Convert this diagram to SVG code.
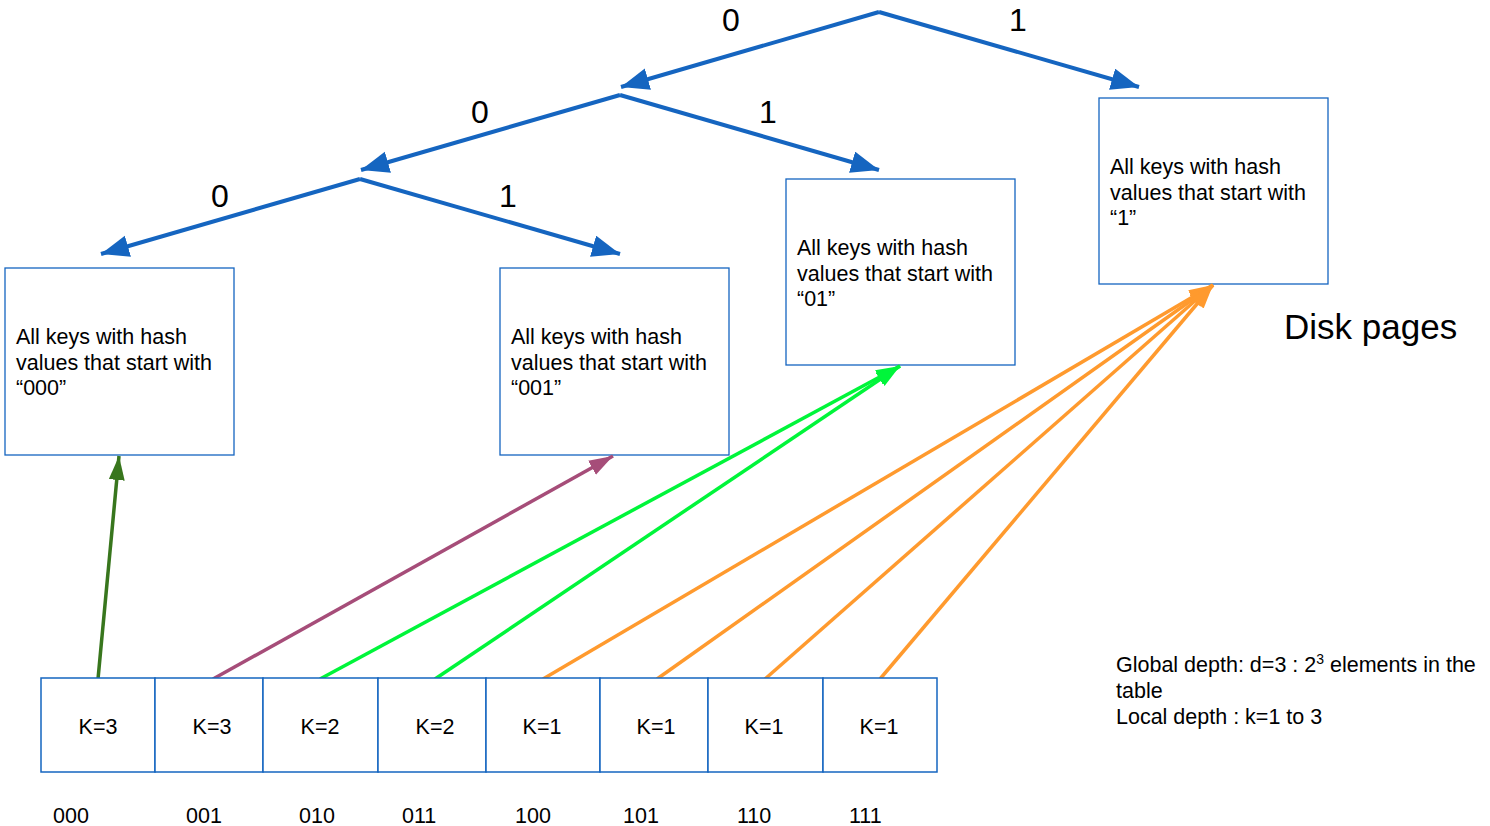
<svg xmlns="http://www.w3.org/2000/svg" width="1490" height="826" viewBox="0 0 1490 826">
<style>
text{font-family:"Liberation Sans",Arial,sans-serif;fill:#000}
.box{fill:#fff;stroke:#1565c0;stroke-width:1.3}
.cell{fill:#fff;stroke:#1565c0;stroke-width:1.5}
.bt{font-size:21.5px}
.k{font-size:21.5px;text-anchor:middle}
.lbl{font-size:21.5px}
.bit{font-size:32px;text-anchor:middle}
.tree{stroke:#1565c0;stroke-width:4;fill:none;marker-end:url(#hb)}
.c{stroke-width:3.5;fill:none}
</style>
<defs>
<marker id="hb" markerUnits="userSpaceOnUse" markerWidth="30" markerHeight="24" refX="28" refY="11" orient="auto"><path d="M0,0 L28,11 L0,22 z" fill="#1565c0"/></marker>
<marker id="hdg" markerUnits="userSpaceOnUse" markerWidth="26" markerHeight="18" refX="24" refY="8" orient="auto"><path d="M0,0 L24,8 L0,16 z" fill="#38761d"/></marker>
<marker id="hp" markerUnits="userSpaceOnUse" markerWidth="26" markerHeight="18" refX="24" refY="8" orient="auto"><path d="M0,0 L24,8 L0,16 z" fill="#a64d79"/></marker>
<marker id="hg" markerUnits="userSpaceOnUse" markerWidth="26" markerHeight="18" refX="24" refY="8" orient="auto"><path d="M0,0 L24,8 L0,16 z" fill="#00f53a"/></marker>
<marker id="ho" markerUnits="userSpaceOnUse" markerWidth="26" markerHeight="18" refX="24" refY="8" orient="auto"><path d="M0,0 L24,8 L0,16 z" fill="#ff9a2e"/></marker>
</defs>

<g id="tree">
<path class="tree" d="M879,12 L621,87"/>
<path class="tree" d="M879,12 L1139,87"/>
<path class="tree" d="M620,95 L361,170"/>
<path class="tree" d="M620,95 L879,170"/>
<path class="tree" d="M360,179 L101,254"/>
<path class="tree" d="M360,179 L620,254"/>
<text class="bit" x="731" y="31">0</text>
<text class="bit" x="1018" y="31">1</text>
<text class="bit" x="480" y="123">0</text>
<text class="bit" x="768" y="123">1</text>
<text class="bit" x="220" y="207">0</text>
<text class="bit" x="508" y="207">1</text>
</g>

<g id="page000">
<rect class="box" x="5" y="268" width="229" height="187"/>
<text class="bt" x="16" y="344">All keys with hash</text>
<text class="bt" x="16" y="370">values that start with</text>
<text class="bt" x="16" y="395">“000”</text>
</g>
<g id="page001">
<rect class="box" x="500" y="268" width="229" height="187"/>
<text class="bt" x="511" y="344">All keys with hash</text>
<text class="bt" x="511" y="370">values that start with</text>
<text class="bt" x="511" y="395">“001”</text>
</g>
<g id="page01">
<rect class="box" x="786" y="179" width="229" height="186"/>
<text class="bt" x="797" y="255">All keys with hash</text>
<text class="bt" x="797" y="281">values that start with</text>
<text class="bt" x="797" y="306">“01”</text>
</g>
<g id="page1">
<rect class="box" x="1099" y="98" width="229" height="186"/>
<text class="bt" x="1110" y="174">All keys with hash</text>
<text class="bt" x="1110" y="200">values that start with</text>
<text class="bt" x="1110" y="225">“1”</text>
</g>

<text x="1284" y="339" style="font-size:35px">Disk pages</text>

<g id="connectors">
<path class="c" stroke="#38761d" marker-end="url(#hdg)" d="M98,679 L119,456"/>
<path class="c" stroke="#a64d79" marker-end="url(#hp)" d="M213,679 L613,456"/>
<path class="c" stroke="#00f53a" marker-end="url(#hg)" d="M320,679 L900,366"/>
<path class="c" stroke="#00f53a" marker-end="url(#hg)" d="M435,679 L900,366"/>
<path class="c" stroke="#ff9a2e" marker-end="url(#ho)" d="M543,679 L1213,285"/>
<path class="c" stroke="#ff9a2e" marker-end="url(#ho)" d="M657,679 L1213,285"/>
<path class="c" stroke="#ff9a2e" marker-end="url(#ho)" d="M765,679 L1213,285"/>
<path class="c" stroke="#ff9a2e" marker-end="url(#ho)" d="M880,679 L1213,285"/>
</g>

<g id="table">
<rect class="cell" x="41" y="678" width="114" height="94"/>
<rect class="cell" x="155" y="678" width="108" height="94"/>
<rect class="cell" x="263" y="678" width="115" height="94"/>
<rect class="cell" x="378" y="678" width="108" height="94"/>
<rect class="cell" x="486" y="678" width="114" height="94"/>
<rect class="cell" x="600" y="678" width="108" height="94"/>
<rect class="cell" x="708" y="678" width="115" height="94"/>
<rect class="cell" x="823" y="678" width="114" height="94"/>
<text class="k" x="98" y="734">K=3</text>
<text class="k" x="212" y="734">K=3</text>
<text class="k" x="320" y="734">K=2</text>
<text class="k" x="435" y="734">K=2</text>
<text class="k" x="542" y="734">K=1</text>
<text class="k" x="656" y="734">K=1</text>
<text class="k" x="764" y="734">K=1</text>
<text class="k" x="879" y="734">K=1</text>
</g>

<g id="indexes">
<text class="lbl" x="53" y="823">000</text>
<text class="lbl" x="186" y="823">001</text>
<text class="lbl" x="299" y="823">010</text>
<text class="lbl" x="402" y="823">011</text>
<text class="lbl" x="515" y="823">100</text>
<text class="lbl" x="623" y="823">101</text>
<text class="lbl" x="737" y="823">110</text>
<text class="lbl" x="849" y="823">111</text>
</g>

<g id="note">
<text class="lbl" x="1116" y="672">Global depth: d=3 : 2<tspan dy="-8" style="font-size:14px">3</tspan><tspan dy="8"> elements in the</tspan></text>
<text class="lbl" x="1116" y="698">table</text>
<text class="lbl" x="1116" y="724">Local depth : k=1 to 3</text>
</g>
</svg>
